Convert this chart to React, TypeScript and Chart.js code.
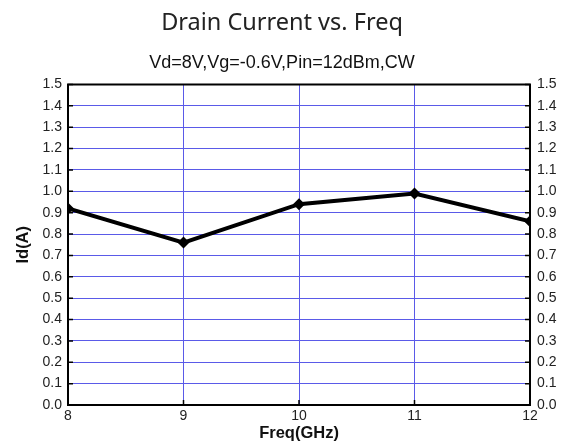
import { useEffect, useRef } from "react";
import { Chart, registerables } from "chart.js";

Chart.register(...registerables);

const freqGHz = [8, 9, 10, 11, 12];
const drainCurrentA = [0.92, 0.76, 0.94, 0.99, 0.86];
const titleText = "Drain Current vs. Freq";
const subtitleText = "Vd=8V,Vg=-0.6V,Pin=12dBm,CW";
const xAxisTitle = "Freq(GHz)";
const yAxisTitle = "Id(A)";
const yRange = [0, 1.5];
const yStep = 0.1;
const xRange = [8, 12];
const xStep = 1;

const GRID = "#5a5ae8";
const SANS = "'Liberation Sans', Arial, sans-serif";

const framePlugin = {
  id: "frame",
  beforeDatasetsDraw(chart: any) {
    const { ctx, chartArea: a, scales } = chart;
    ctx.save();
    ctx.strokeStyle = "#000";
    ctx.lineWidth = 1.5;
    const tl = 5;
    ctx.beginPath();
    scales.y.ticks.forEach((t: any) => {
      const py = scales.y.getPixelForValue(t.value);
      ctx.moveTo(a.left, py);
      ctx.lineTo(a.left + tl, py);
      ctx.moveTo(a.right, py);
      ctx.lineTo(a.right - tl, py);
    });
    scales.x.ticks.forEach((t: any) => {
      const px = scales.x.getPixelForValue(t.value);
      ctx.moveTo(px, a.bottom);
      ctx.lineTo(px, a.bottom - tl);
    });
    ctx.stroke();
    ctx.lineWidth = 2;
    ctx.strokeRect(a.left, a.top, a.right - a.left, a.bottom - a.top);
    ctx.restore();
  },
};

export default function App() {
  const ref = useRef<HTMLCanvasElement>(null);
  useEffect(() => {
    if (!ref.current) return;
    const chart = new Chart(ref.current, {
      type: "line",
      data: {
        datasets: [
          {
            data: freqGHz.map((f, i) => ({ x: f, y: drainCurrentA[i] })),
            borderColor: "#000",
            backgroundColor: "#000",
            borderWidth: 4,
            pointStyle: "rectRot",
            pointRadius: 6,
            pointBorderWidth: 0,
            tension: 0,
            clip: 0,
          },
        ],
      },
      plugins: [framePlugin],
      options: {
        animation: false,
        responsive: false,
        devicePixelRatio: 1,
        layout: { padding: 0 },
        plugins: {
          legend: { display: false },
          tooltip: { enabled: false },
          title: {
            display: true,
            text: titleText,
            color: "#222",
            font: { family: "'Noto Sans', sans-serif", size: 23.5, weight: "normal" },
            padding: { top: 9, bottom: 0 },
          },
          subtitle: {
            display: true,
            text: subtitleText,
            color: "#111",
            font: { family: SANS, size: 18, weight: "normal" },
            padding: { top: 15.5, bottom: 10.2 },
          },
        },
        scales: {
          x: {
            type: "linear",
            min: xRange[0],
            max: xRange[1],
            afterFit: (s: any) => {
              s.height = 41;
            },
            grid: { color: GRID, lineWidth: 1, drawTicks: false },
            border: { display: false },
            ticks: {
              stepSize: xStep,
              padding: 3,
              color: "#222",
              font: { family: SANS, size: 14 },
              maxRotation: 0,
            },
            title: {
              display: true,
              text: xAxisTitle,
              color: "#111",
              font: { family: SANS, size: 16.5, weight: "bold" },
              padding: { top: 0, bottom: 3 },
            },
          },
          y: {
            position: "left",
            min: yRange[0],
            max: yRange[1],
            afterFit: (s: any) => {
              s.width = 68;
            },
            grid: { color: GRID, lineWidth: 1, drawTicks: false },
            border: { display: false },
            ticks: {
              stepSize: yStep,
              padding: 6,
              color: "#222",
              font: { family: SANS, size: 14 },
              callback: (v: any) => Number(v).toFixed(1),
            },
            title: {
              display: true,
              text: yAxisTitle,
              color: "#111",
              font: { family: SANS, size: 16.5, weight: "bold" },
              padding: { top: 14, bottom: 0 },
            },
          },
          y2: {
            position: "right",
            min: yRange[0],
            max: yRange[1],
            afterFit: (s: any) => {
              s.width = 34;
            },
            grid: { display: false, drawTicks: false },
            border: { display: false },
            ticks: {
              stepSize: yStep,
              padding: 7,
              color: "#222",
              font: { family: SANS, size: 14 },
              callback: (v: any) => Number(v).toFixed(1),
            },
          },
        },
      },
    } as any);
    return () => chart.destroy();
  }, []);
  return (
    <div style={{ position: "fixed", left: 0, top: 0, width: 564, height: 446, background: "#fff" }}>
      <canvas ref={ref} width={564} height={446} style={{ width: 564, height: 446 }} />
    </div>
  );
}
